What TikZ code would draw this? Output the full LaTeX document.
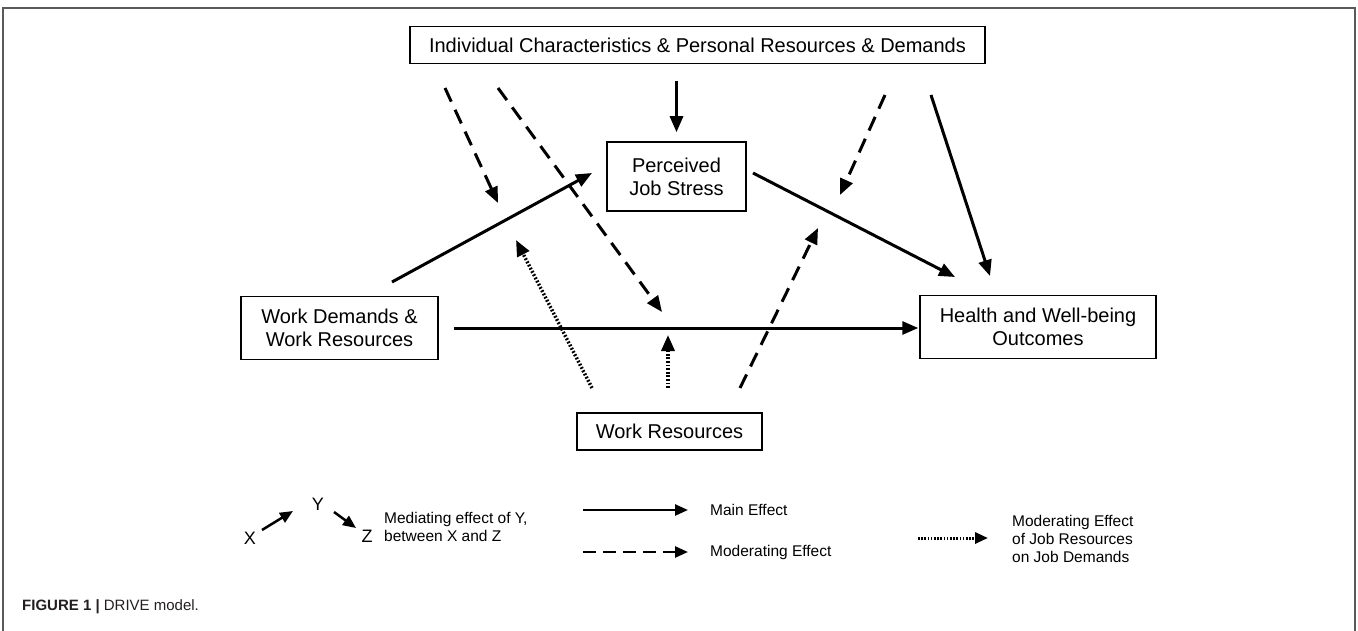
\documentclass[tikz,border=0pt]{standalone}
\usepackage{fontspec}
\setmainfont{Liberation Sans}
\usetikzlibrary{arrows.meta}
\definecolor{frame}{HTML}{5A5A5A}
\definecolor{captext}{HTML}{231F20}
\begin{document}
\begin{tikzpicture}[x=1pt,y=-1pt,
  box/.style={draw=black, line width=1.5pt, align=center, inner sep=0pt,
    font=\fontsize{20}{23}\selectfont},
  arr/.style={line width=3pt, -{Triangle[length=16pt,width=13pt]}},
  dasharr/.style={arr, dash pattern=on 15pt off 9pt},
  dotarr/.style={arr, line width=3.5pt, dash pattern=on 1.8pt off 1.8pt},
  legarr/.style={line width=2.5pt, -{Triangle[length=13pt,width=11pt]}},
  legdash/.style={legarr, dash pattern=on 13pt off 7pt},
  legdot/.style={legarr, line width=3pt, dash pattern=on 1.6pt off 1.6pt},
  legtext/.style={anchor=west, align=left, inner sep=0pt, font=\fontsize{15.5}{18}\selectfont},
  xyz/.style={inner sep=0pt, font=\fontsize{18}{20}\selectfont}
]
\useasboundingbox (0,0) rectangle (1358,631);
% frame
\draw[frame, line width=1.5pt] (3,631) -- (3,8) -- (1355,8) -- (1355,631);

% nodes
\node[box, minimum width=575, minimum height=37] (top) at (697.5,45) {Individual Characteristics \& Personal Resources \& Demands};
\node[box, minimum width=139, minimum height=69] (pjs) at (676.5,176.5) {Perceived\\Job Stress};
\node[box, minimum width=197, minimum height=63] (wdr) at (339.5,328) {Work Demands \&\\Work Resources};
\node[box, minimum width=236, minimum height=63] (hwo) at (1038,327) {Health and Well-being\\Outcomes};
\node[box, minimum width=185, minimum height=37] (wr) at (669.5,431.5) {Work Resources};

% free ends
\coordinate (d1s) at (445,88);  \coordinate (d1e) at (498,203);
\coordinate (d2s) at (498,88);  \coordinate (d2e) at (662,312);
\coordinate (d3s) at (885,95);  \coordinate (d3e) at (840,195);
\coordinate (s5s) at (931,95);  \coordinate (s5e) at (990,276);
\coordinate (s6s) at (392,282); \coordinate (s6e) at (592,173);
\coordinate (s7s) at (753,173); \coordinate (s7e) at (955,277);
\coordinate (p1s) at (592,388); \coordinate (p1e) at (516,240);
\coordinate (p2s) at (668,388); \coordinate (p2e) at (668,335);
\coordinate (d4s) at (740,388); \coordinate (d4e) at (818,228);

% connectors
\draw[arr, shorten <=17pt, shorten >=9pt] (top.south -| pjs.north) -- (pjs.north);
\draw[arr, shorten <=15pt, shorten >=1pt] (wdr.east) -- (wdr.east -| hwo.west);
\draw[arr] (s6s) -- (s6e);
\draw[arr] (s7s) -- (s7e);
\draw[arr] (s5s) -- (s5e);
\draw[dasharr] (d1s) -- (d1e);
\draw[dasharr] (d2s) -- (d2e);
\draw[dasharr] (d3s) -- (d3e);
\draw[dasharr] (d4s) -- (d4e);
\draw[dotarr] (p1s) -- (p1e);
\draw[dotarr] (p2s) -- (p2e);

% legend
\node[xyz] (lx) at (250,538) {X};
\node[xyz] (ly) at (318,504) {Y};
\node[xyz] (lz) at (367,536) {Z};
\coordinate (mxs) at (262,530); \coordinate (mxe) at (293,511);
\coordinate (mys) at (334,512); \coordinate (mye) at (356,528);
\draw[legarr] (mxs) -- (mxe);
\draw[legarr] (mys) -- (mye);
\node[legtext] (lmed) at (384,527) {Mediating effect of Y,\\between X and Z};

\coordinate (lms) at (583,510); \coordinate (lme) at (688,510);
\draw[legarr] (lms) -- (lme);
\node[legtext] (lmain) at (710,510) {Main Effect};
\coordinate (lds) at (583,552); \coordinate (lde) at (688,552);
\draw[legdash] (lds) -- (lde);
\node[legtext] (lmod) at (710,552) {Moderating Effect};
\coordinate (lps) at (918,538); \coordinate (lpe) at (988,538);
\draw[legdot] (lps) -- (lpe);
\node[legtext] (ljr) at (1012,539) {Moderating Effect\\of Job Resources\\on Job Demands};

% caption
\node[anchor=west, inner sep=0pt, text=captext, font=\fontsize{15}{18}\selectfont] (cap) at (22,607) {\textbf{FIGURE 1 |} DRIVE model.};
\end{tikzpicture}
\end{document}
